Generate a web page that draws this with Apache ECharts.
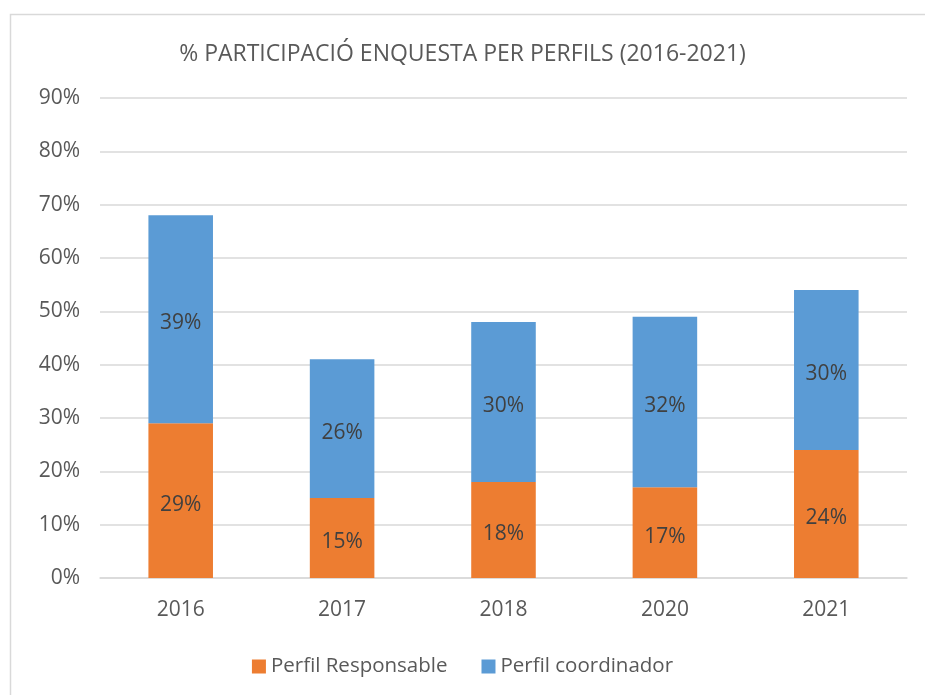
<!DOCTYPE html>
<html>
<head>
<meta charset="utf-8">
<script src="https://cdn.jsdelivr.net/npm/echarts@6/dist/echarts.min.js"></script>
<style>
  html, body { margin: 0; padding: 0; background: #fff; }
  #main { width: 925px; height: 695px; }
</style>
</head>
<body>
<div id="main"></div>
<script>
var myChart = echarts.init(document.getElementById('main'));

var years = ['2016', '2017', '2018', '2020', '2021'];
var responsable = [29, 15, 18, 17, 24];
var coordinador = [39, 26, 30, 32, 30];

var labelStyle = {
    show: true,
    position: 'inside',
    offset: [0, 4],
    formatter: '{c}%',
    color: '#404040',
    fontSize: 21,
    fontFamily: 'Open Sans'
};

var option = {
    backgroundColor: '#fff',
    textStyle: {fontFamily: 'Open Sans'},
    graphic: [
        {
            type: 'rect',
            shape: {x: 10.5, y: 14.5, width: 930, height: 700},
            style: {fill: 'none', stroke: '#d9d9d9', lineWidth: 1.5},
            silent: true
        }
    ],
    title: {
        text: '% PARTICIPACIÓ ENQUESTA PER PERFILS (2016-2021)',
        left: 'center',
        top: 38,
        textStyle: {
            color: '#595959',
            fontSize: 23,
            fontWeight: 'normal',
            fontFamily: 'Open Sans'
        }
    },
    legend: {
        bottom: 13,
        left: 'center',
        itemWidth: 14,
        itemHeight: 14,
        itemGap: 34,
        itemStyle: {borderWidth: 0},
        icon: 'rect',
        textStyle: {color: '#595959', fontSize: 20.5, fontFamily: 'Open Sans'},
        data: ['Perfil Responsable', 'Perfil coordinador']
    },
    grid: {
        left: 100,
        right: 18,
        top: 98,
        bottom: 117
    },
    xAxis: {
        type: 'category',
        data: years,
        axisLine: {lineStyle: {color: '#d9d9d9', width: 1.5}},
        axisTick: {show: false},
        axisLabel: {color: '#595959', fontSize: 21, margin: 22, fontFamily: 'Open Sans'}
    },
    yAxis: {
        type: 'value',
        min: 0,
        max: 90,
        interval: 10,
        axisLine: {show: false},
        axisTick: {show: false},
        splitLine: {lineStyle: {color: '#d9d9d9', width: 1.5}},
        axisLabel: {
            color: '#595959',
            fontSize: 21,
            margin: 20,
            fontFamily: 'Open Sans',
            formatter: '{value}%'
        }
    },
    series: [
        {
            name: 'Perfil Responsable',
            type: 'bar',
            stack: 'total',
            barWidth: '40%',
            itemStyle: {color: '#ed7d31'},
            label: labelStyle,
            data: responsable
        },
        {
            name: 'Perfil coordinador',
            type: 'bar',
            stack: 'total',
            barWidth: '40%',
            itemStyle: {color: '#5b9bd5'},
            label: labelStyle,
            data: coordinador
        }
    ]
};
myChart.setOption(option);
</script>
</body>
</html>
